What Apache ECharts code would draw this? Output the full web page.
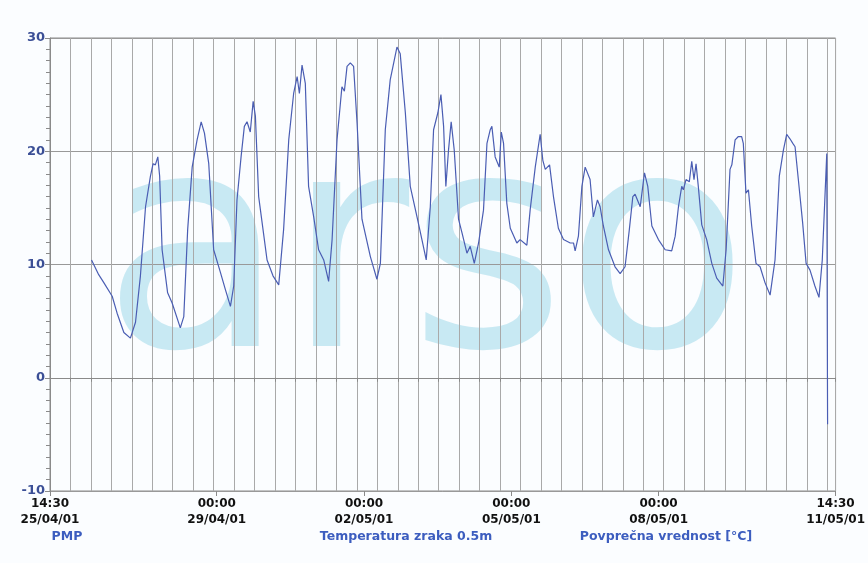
<!DOCTYPE html>
<html>
<head>
<meta charset="utf-8">
<script src="https://cdn.jsdelivr.net/npm/echarts@6/dist/echarts.min.js"></script>
<style>html,body{margin:0;padding:0;background:#fbfdff;}#c{width:868px;height:563px;}</style>
</head>
<body>
<div id="c"></div>
<script>
// hours since 25/04/01 14:30
const hours = [20.3,23.8,26.3,30.4,32.8,36.1,39.3,41.8,44.2,46.7,49.1,50.4,51.5,52.7,53.6,54.8,57.5,59.7,63.7,65.4,
67.3,69.5,71.9,73.9,75.5,77.6,80.0,83.3,85.7,88.2,89.8,91.4,93.4,95.0,96.3,97.9,99.3,100.4,102.0,106.1,
109.0,111.8,114.2,116.7,119.1,120.8,121.9,123.2,124.8,126.4,128.9,131.3,133.8,136.2,137.9,140.3,142.7,143.9,145.2,146.8,
148.4,150.1,152.5,156.6,159.8,161.5,163.9,166.3,169.6,171.2,173.7,176.1,179.4,181.8,183.9,185.9,187.5,189.6,191.1,192.4,
193.5,194.8,196.1,197.6,199.7,201.4,203.8,205.4,207.4,209.5,211.9,213.6,215.2,216.0,217.6,219.6,220.6,221.7,223.3,225.0,
228.2,229.8,233.1,234.7,237.2,239.6,240.9,242.1,244.2,246.1,248.5,251.0,254.3,255.9,256.7,258.3,260.0,261.6,264.0,265.6,
267.6,268.9,270.5,273.0,276.2,278.7,281.1,283.2,284.9,286.0,286.8,288.5,290.6,292.2,294.2,297.4,300.7,303.9,305.6,307.2,
308.8,309.6,310.9,312.5,313.7,314.8,315.8,316.9,318.6,321.0,323.5,325.9,328.9,330.5,332.4,333.3,334.9,336.5,337.0,338.1,
338.9,340.2,341.4,343.0,345.1,347.1,349.5,352.0,354.4,356.5,358.5,360.1,361.7,363.1,364.2,365.8,367.9,369.6,371.5,373.9,
375.9,377.5,379.7,380.1];
const temps = [10.4,9.1,8.4,7.2,5.7,4.0,3.5,4.9,9.0,15.1,17.8,18.9,18.8,19.5,17.8,11.3,7.5,6.6,4.4,5.4,
13.1,18.6,21.0,22.6,21.6,18.9,11.3,9.3,7.8,6.3,8.1,15.7,19.5,22.2,22.6,21.7,24.4,23.1,16.0,10.4,
9.0,8.2,13.1,21.0,25.1,26.6,25.1,27.6,26.0,16.9,14.2,11.3,10.4,8.5,12.2,21.0,25.7,25.3,27.5,27.8,
27.5,22.5,14.0,10.7,8.7,10.1,21.9,26.3,29.2,28.6,23.4,16.9,14.2,12.2,10.4,15.1,21.9,23.4,25.0,22.2,
16.9,20.1,22.6,20.1,14.0,12.8,11.0,11.6,10.1,11.9,14.8,20.7,21.9,22.2,19.5,18.6,21.7,20.7,15.4,13.2,
11.9,12.2,11.7,14.8,18.6,21.5,19.2,18.4,18.8,16.0,13.2,12.2,11.9,11.9,11.2,12.5,16.9,18.6,17.5,14.2,
15.7,15.1,13.4,11.3,9.8,9.2,9.8,13.1,16.0,16.2,16.3,15.1,18.1,16.9,13.4,12.2,11.3,11.2,12.5,15.1,
16.9,16.6,17.5,17.3,19.1,17.5,18.9,16.9,13.5,12.2,10.1,8.8,8.1,11.3,18.4,18.8,21.0,21.3,21.4,21.3,
20.7,16.3,16.6,13.4,10.1,9.8,8.4,7.3,10.4,17.8,20.1,21.5,21.1,20.7,20.4,17.5,13.7,10.1,9.5,8.1,
7.1,10.4,19.8,-4.1];
const yTicks = [-10, 0, 10, 20, 30];
const xLabelHours = [0, 81.5, 153.5, 225.5, 297.5, 384];
const xLabelTexts = ['14:30\n25/04/01', '00:00\n29/04/01', '00:00\n02/05/01', '00:00\n05/05/01', '00:00\n08/05/01', '14:30\n11/05/01'];
const footer = ['PMP', 'Temperatura zraka 0.5m', 'Povprečna vrednost [°C]'];

const data = hours.map((h, i) => [h, temps[i]]);
const chart = echarts.init(document.getElementById('c'));
const labelFor = v => {
  const i = xLabelHours.findIndex(h => Math.abs(h - v) < 0.01);
  return i >= 0 ? xLabelTexts[i] : '';
};
const footStyle = { font: 'bold 12.5px "DejaVu Sans"', fill: '#3c5dbf', textAlign: 'center', textVerticalAlign: 'middle' };
chart.setOption({
  animation: false,
  backgroundColor: '#fbfdff',
  grid: { left: 50, right: 32, top: 38, bottom: 72, show: true, borderColor: '#8a8a8a', borderWidth: 1, backgroundColor: 'transparent' },
  graphic: [
    { type: 'text', z: -10, left: 102, top: 118, silent: true,
      style: { text: 'arso', font: 'normal 300px "DejaVu Sans"', fill: 'rgba(150,214,232,0.5)' } },
    { type: 'text', x: 67, y: 537, style: Object.assign({ text: footer[0] }, footStyle) },
    { type: 'text', x: 406, y: 537, style: Object.assign({ text: footer[1] }, footStyle) },
    { type: 'text', x: 666, y: 537, style: Object.assign({ text: footer[2] }, footStyle) }
  ],
  xAxis: [
    { type: 'value', min: 0, max: 384, interval: 10,
      axisLine: { show: true, lineStyle: { color: '#8a8a8a' } },
      axisTick: { show: true, length: 4, lineStyle: { color: '#8a8a8a' } },
      axisLabel: { show: false },
      splitLine: { show: true, lineStyle: { color: '#a9a9a9', width: 1 } } },
    { type: 'value', min: 0, max: 384, position: 'bottom', gridIndex: 0,
      axisLine: { show: false },
      axisTick: { show: true, length: 5, customValues: xLabelHours, lineStyle: { color: '#8a8a8a' } },
      axisLabel: { show: true, customValues: xLabelHours, formatter: labelFor, color: '#111', fontWeight: 'bold', fontSize: 12, fontFamily: 'DejaVu Sans', lineHeight: 16, margin: 5 },
      splitLine: { show: false } }
  ],
  yAxis: {
    type: 'value', min: -10, max: 30, interval: 10,
    axisLine: { show: true, lineStyle: { color: '#8a8a8a' } },
    axisTick: { show: true, length: 5, lineStyle: { color: '#8a8a8a' } },
    minorTick: { show: true, splitNumber: 10, length: 4, lineStyle: { color: '#8a8a8a' } },
    axisLabel: { color: '#3b4f96', fontWeight: 'bold', fontSize: 13, fontFamily: 'DejaVu Sans', margin: 5,
      formatter: v => yTicks.includes(v) ? String(v) : '' },
    splitLine: { show: true, lineStyle: { color: '#999', width: 1 } }
  },
  series: [{
    type: 'line', xAxisIndex: 0, data: data, showSymbol: false, smooth: false,
    lineStyle: { color: '#4a5db3', width: 1.2 }, z: 5
  }]
});
</script>
</body>
</html>
